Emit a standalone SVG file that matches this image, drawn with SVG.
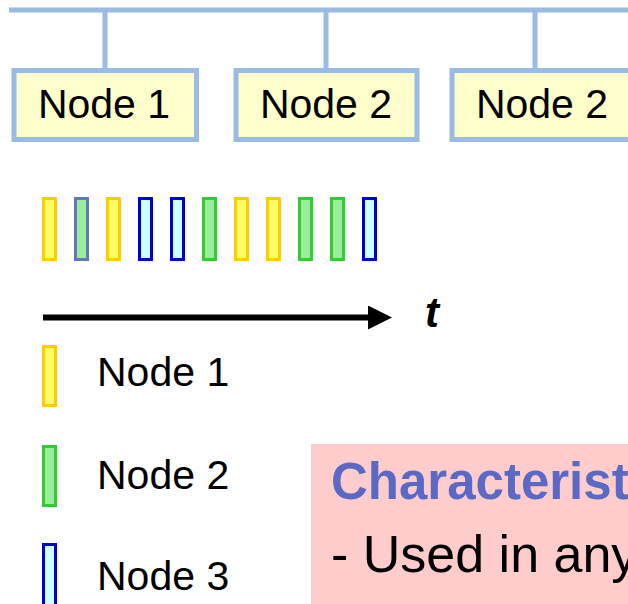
<svg xmlns="http://www.w3.org/2000/svg" width="628" height="604" viewBox="0 0 628 604">
  <style>
    .bus { stroke: #9BBCE2; stroke-width: 5; fill: none; }
    .node rect { fill: #FFFFCC; stroke: #9BBCE2; stroke-width: 5; }
    .lbl { font-family: "Liberation Sans", Arial, sans-serif; font-size: 41px; fill: #000; }
    .slot { stroke-width: 3; }
    .y { fill: #FFFF66; stroke: #FFCC00; }
    .g { fill: #99EE99; stroke: #33CC33; }
    .b { fill: #CCFFFF; stroke: #0000CC; }
    .gb { fill: #99EE99; stroke: #6674C4; }
  </style>
  <defs>
    <marker id="arrow" viewBox="0 0 24 24" refX="0" refY="12" markerUnits="userSpaceOnUse" markerWidth="24" markerHeight="24" orient="auto">
      <path d="M0,0 L24,12 L0,24 Z" fill="#000"/>
    </marker>
  </defs>

  <!-- shared bus and drops -->
  <g id="connectors">
    <line class="bus" x1="9" y1="10" x2="628" y2="10"/>
    <line class="bus" x1="105" y1="10" x2="105" y2="70"/>
    <line class="bus" x1="326" y1="10" x2="326" y2="70"/>
    <line class="bus" x1="535" y1="10" x2="535" y2="70"/>
  </g>

  <g id="node1" class="node">
    <rect x="14" y="70.5" width="182.5" height="69"/>
    <text class="lbl" x="104" y="118" text-anchor="middle">Node 1</text>
  </g>
  <g id="node2" class="node">
    <rect x="236" y="70.5" width="181" height="69"/>
    <text class="lbl" x="326" y="118" text-anchor="middle">Node 2</text>
  </g>
  <g id="node3" class="node">
    <rect x="452" y="70.5" width="190" height="69"/>
    <text class="lbl" x="542" y="118" text-anchor="middle">Node 2</text>
  </g>

  <!-- transmission slots over time -->
  <g id="slots" class="slot">
    <rect class="y" x="43.5" y="198.5" width="12" height="61"/>
    <rect class="gb" x="75.5" y="198.5" width="12" height="61"/>
    <rect class="y" x="107.5" y="198.5" width="12" height="61"/>
    <rect class="b" x="139.5" y="198.5" width="12" height="61"/>
    <rect class="b" x="171.5" y="198.5" width="12" height="61"/>
    <rect class="g" x="203.5" y="198.5" width="12" height="61"/>
    <rect class="y" x="235.5" y="198.5" width="12" height="61"/>
    <rect class="y" x="267.5" y="198.5" width="12" height="61"/>
    <rect class="g" x="299.5" y="198.5" width="12" height="61"/>
    <rect class="g" x="331.5" y="198.5" width="12" height="61"/>
    <rect class="b" x="363.5" y="198.5" width="12" height="61"/>
  </g>

  <!-- time axis -->
  <g id="time-axis">
    <line x1="43" y1="317.5" x2="368" y2="317.5" stroke="#000" stroke-width="6" marker-end="url(#arrow)"/>
    <text x="425" y="327" font-family="Liberation Sans, Arial, sans-serif" font-size="42" font-weight="bold" font-style="italic">t</text>
  </g>

  <!-- legend -->
  <g id="legend" class="slot">
    <rect class="y" x="43.5" y="346.5" width="12" height="59"/>
    <text class="lbl" x="97" y="386">Node 1</text>
    <rect class="g" x="43.5" y="446.5" width="12" height="59"/>
    <text class="lbl" x="97" y="489">Node 2</text>
    <rect class="b" x="43.5" y="544.5" width="12" height="62"/>
    <text class="lbl" x="97" y="590">Node 3</text>
  </g>

  <!-- characteristics note -->
  <g id="note">
    <rect x="311" y="444" width="330" height="170" fill="#FFCCCC"/>
    <text x="331" y="499" font-family="Liberation Sans, Arial, sans-serif" font-size="51" font-weight="bold" fill="#5A69C6">Characteristics</text>
    <text x="331" y="572" font-family="Liberation Sans, Arial, sans-serif" font-size="52" fill="#000">- Used in any</text>
  </g>
</svg>
